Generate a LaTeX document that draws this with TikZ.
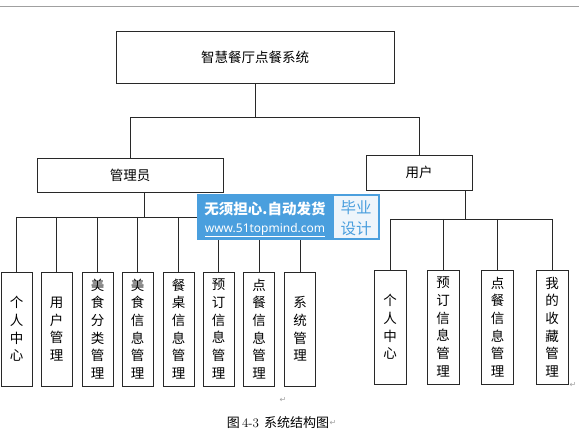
\documentclass[tikz,border=0pt]{standalone}
\usepackage{fontspec}
\newfontfamily\cjk{Noto Sans CJK SC}
\newfontfamily\lat{Noto Sans}
\newfontfamily\sym{DejaVu Sans}
\definecolor{wmblue}{RGB}{74,159,222}
\definecolor{wmlight}{RGB}{238,245,251}
\definecolor{linec}{RGB}{40,40,40}
\definecolor{markc}{RGB}{160,160,160}
\begin{document}
\begin{tikzpicture}[x=1pt,y=-1pt,
  box/.style={draw=linec,line width=0.8pt,inner sep=0pt,font=\cjk\fontsize{13.5}{17.7}\selectfont,align=center},
  kid/.style={box,minimum width=31pt,minimum height=114pt},
  conn/.style={draw=linec,line width=0.8pt},
  pmark/.style={inner sep=0pt,text=markc,font=\sym\fontsize{8}{8}\selectfont}]
\useasboundingbox (0,0) rectangle (579,435);
\draw[markc,line width=0.7pt] (0,6) -- (579,6);
% main nodes
\node[box,minimum width=278pt,minimum height=52pt] (root) at (255,57) {智慧餐厅点餐系统};
\node[box,minimum width=186pt,minimum height=34pt] (admin) at (130,175) {管理员};
\node[box,minimum width=106pt,minimum height=35pt] (user) at (419,172.5) {用户};
% admin children
\node[kid] (a1) at (16.5,329) {个\\人\\中\\心};
\node[kid] (a2) at (56.5,329) {用\\户\\管\\理};
\node[kid] (a3) at (97.5,329) {美\\食\\分\\类\\管\\理};
\node[kid] (a4) at (137.5,329) {美\\食\\信\\息\\管\\理};
\node[kid] (a5) at (178.5,329) {餐\\桌\\信\\息\\管\\理};
\node[kid] (a6) at (218.5,329) {预\\订\\信\\息\\管\\理};
\node[kid] (a7) at (259,329) {点\\餐\\信\\息\\管\\理};
\node[kid] (a8) at (300,329) {系\\统\\管\\理};
% user children
\node[kid,minimum width=32pt] (u1) at (390,327) {个\\人\\中\\心};
\node[kid,minimum width=32pt] (u2) at (443,327) {预\\订\\信\\息\\管\\理};
\node[kid,minimum width=32pt] (u3) at (497.5,327) {点\\餐\\信\\息\\管\\理};
\node[kid,minimum width=32pt] (u4) at (552,327) {我\\的\\收\\藏\\管\\理};
% connectors
\coordinate (rb) at (255,117);
\coordinate (bl) at (130,117);
\coordinate (br) at (419,117);
\draw[conn] (root.south) -- (rb);
\draw[conn] (admin.north) -- (bl) -- (br) -- (user.north);
\coordinate (aj) at (144,217);
\draw[conn] (admin.south -| aj) -- (aj);
\draw[conn] (a1.north |- aj) -- (a8.north |- aj);
\foreach \k in {a1,a2,a3,a4,a5,a6,a7,a8}{\draw[conn] (\k.north |- aj) -- (\k.north);}
\coordinate (uj) at (465,219);
\draw[conn] (user.south -| uj) -- (uj);
\draw[conn] (u1.north |- uj) -- (u4.north |- uj);
\foreach \k in {u1,u2,u3,u4}{\draw[conn] (\k.north |- uj) -- (\k.north);}
% watermark
\fill[wmblue] (197,194) rectangle (380,240);
\fill[wmlight] (334,196) rectangle (378,238);
\node[inner sep=0pt,text=white,font=\cjk\bfseries\fontsize{14.5}{15}\selectfont] (wm1) at (265,209) {无须担心.自动发货};
\node[inner sep=0pt,text=white,font=\lat\fontsize{12}{13}\selectfont] (wm2) at (265,230) {\underline{www.51topmind.com}};
\node[inner sep=0pt,text=wmblue,font=\cjk\fontsize{15.5}{16}\selectfont] (wm3) at (356,208) {毕业};
\node[inner sep=0pt,text=wmblue,font=\cjk\fontsize{15.5}{16}\selectfont] (wm4) at (356,229) {设计};
% caption and marks
\node[inner sep=0pt,font=\cjk\fontsize{13}{14}\selectfont] (cap) at (278,423) {图\,{\rmfamily 4-3}\, 系统结构图};
\node[pmark,anchor=west] (m1) at (cap.east) {↵};
\node[pmark] (m2) at (283,400) {↵};
\node[pmark] (m3) at (573,385) {↵};
\end{tikzpicture}
\end{document}
